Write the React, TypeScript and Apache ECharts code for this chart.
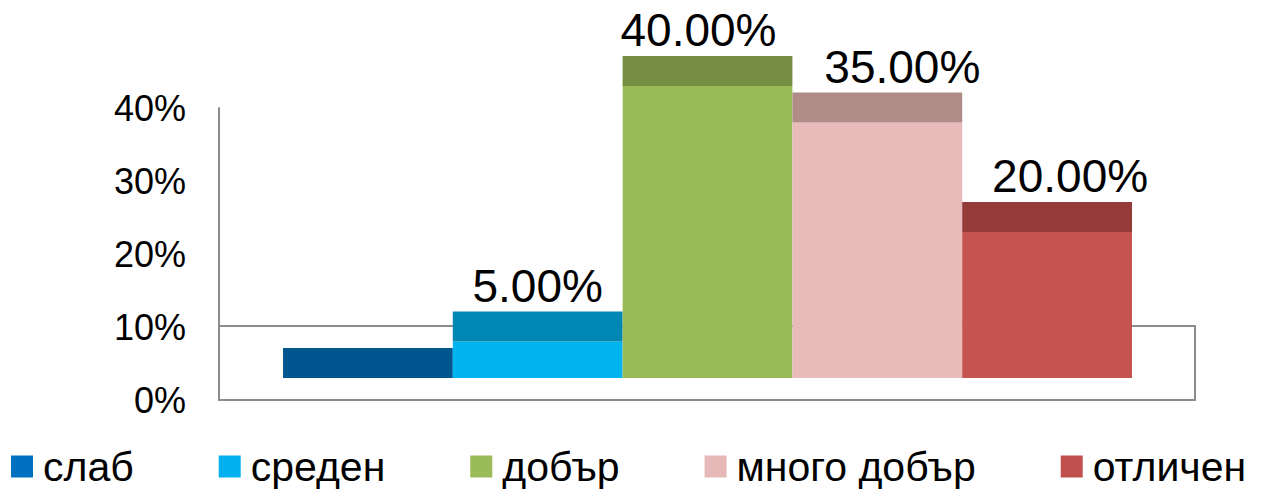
import React, { useEffect, useRef } from "react";
import * as echarts from "echarts";

const categories = ["слаб", "среден", "добър", "много добър", "отличен"];
const values = [0, 5, 40, 35, 20];
const frontColors = ["#00568f", "#00b4ef", "#9bbb59", "#e8baba", "#c5534f"];
const topColors = ["#00568f", "#0087b3", "#778f42", "#b08c89", "#943a38"];
const legendColors = ["#0070c0", "#00b0f0", "#9bbb59", "#e6b9b8", "#c0504d"];
const yMin = 0;
const yMax = 40;
const yStep = 10;
const barAxisMax = 50;
const TOP_DEPTH = 4.1;
const labelShift = [0, 0, -9, 25, 23];

export default function App() {
  const ref = useRef<HTMLDivElement>(null);
  useEffect(() => {
    if (!ref.current) return;
    const chart = echarts.init(ref.current, undefined, { renderer: "svg" });
    const font = "'Liberation Sans', Arial, sans-serif";
    const series: any[] = [];
    categories.forEach((name, i) => {
      series.push({
        type: "bar",
        name,
        xAxisIndex: 1,
        yAxisIndex: 1,
        stack: "s" + i,
        barGap: "0%",
        barCategoryGap: "0%",
        data: [values[i]],
        itemStyle: { color: frontColors[i] },
        z: 3,
      });
      series.push({
        type: "bar",
        name: name + "_top",
        xAxisIndex: 1,
        yAxisIndex: 1,
        stack: "s" + i,
        barGap: "0%",
        barCategoryGap: "0%",
        data: [TOP_DEPTH],
        itemStyle: { color: topColors[i] },
        z: 3,
        label: {
          show: values[i] > 0,
          position: "top",
          distance: 3,
          offset: [labelShift[i], 0],
          formatter: () => values[i].toFixed(2) + "%",
          fontSize: 46,
          color: "#000",
          fontFamily: font,
        },
      });
    });
    chart.setOption({
      animation: false,
      backgroundColor: "#fff",
      textStyle: { fontFamily: font },
      grid: [
        { left: 219, top: 108, width: 976, height: 292 },
        { left: 283, top: 13, width: 849, height: 365 },
      ],
      xAxis: [
        { type: "value", gridIndex: 0, show: false, min: 0, max: 1 },
        { type: "category", gridIndex: 1, show: false, data: [""] },
      ],
      yAxis: [
        {
          type: "value",
          gridIndex: 0,
          min: yMin,
          max: yMax,
          interval: yStep,
          axisLine: { show: true, lineStyle: { color: "#8c8c8c", width: 2 } },
          axisTick: { show: false },
          splitLine: { show: false },
          axisLabel: {
            formatter: "{value}%",
            fontSize: 36,
            color: "#000",
            margin: 33,
            fontFamily: font,
          },
        },
        { type: "value", gridIndex: 1, min: 0, max: barAxisMax, show: false },
      ],
      graphic: [
        {
          type: "rect",
          z: 0,
          shape: { x: 219, y: 326, width: 976, height: 74 },
          style: { fill: "none", stroke: "#8c8c8c", lineWidth: 2 },
        },
      ],
      legend: {
        left: 11,
        top: 446,
        padding: 0,
        icon: "rect",
        itemWidth: 22,
        itemHeight: 22,
        itemGap: 85,
        textStyle: {
          fontSize: 41,
          lineHeight: 36,
          color: "#000",
          fontFamily: font,
          padding: [0, 0, 0, 5],
        },
        data: categories.map((name, i) => ({
          name,
          itemStyle: { color: legendColors[i] },
        })),
      },
      series,
    });
    return () => chart.dispose();
  }, []);
  return (
    <div
      ref={ref}
      style={{ position: "fixed", left: 0, top: 0, width: 1263, height: 489 }}
    />
  );
}
